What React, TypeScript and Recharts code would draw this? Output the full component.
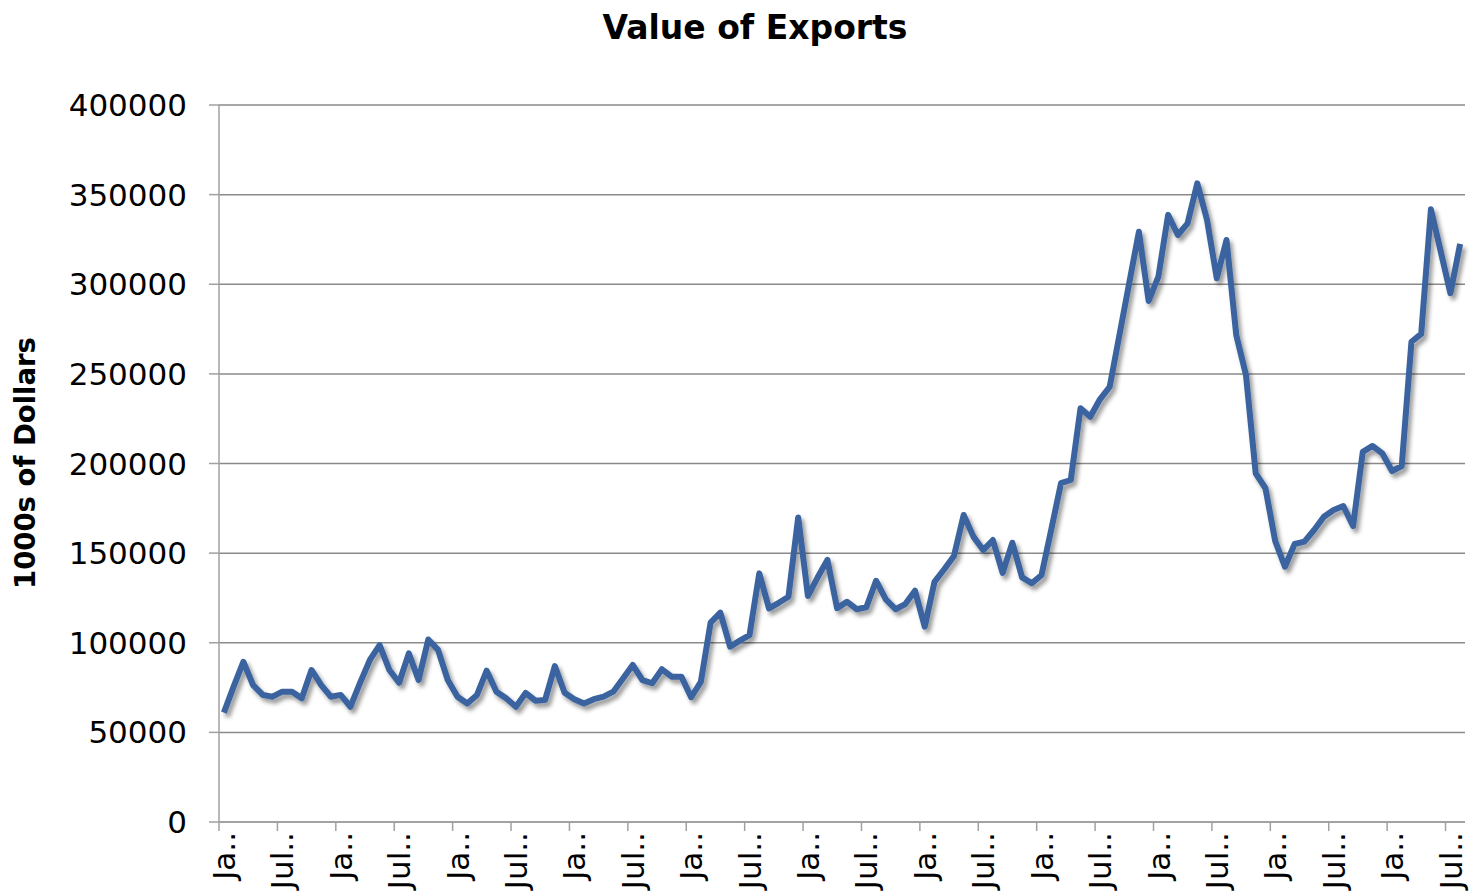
import { LineChart, Line, XAxis, YAxis, CartesianGrid } from "recharts"

const MONTHS = ["Jan", "Feb", "Mar", "Apr", "May", "Jun", "Jul", "Aug", "Sep", "Oct", "Nov", "Dec"]

// Excel truncates the rotated labels to fit the band
const TICK_LABELS: Record<string, string> = { Jan: "Ja..", Jul: "Jul.." }

const Y_TICKS = [0, 50000, 100000, 150000, 200000, 250000, 300000, 350000, 400000]

// monthly export value, 1000s of dollars
const EXPORTS = [
  61000, 75500, 89400, 76400, 70900, 69900, 72700, 72700, 69000, 84800, 76400, 69900,
  70900, 64300, 77700, 90400, 98700, 84800, 77700, 94100, 79200, 101800, 96000, 79200,
  69900, 66100, 70900, 84400, 72700, 69000, 64300, 72000, 67700, 68100, 87000, 72100,
  68500, 66100, 68500, 69900, 72700, 80100, 87600, 79200, 77400, 85200, 81100, 81100,
  69600, 78200, 111200, 116800, 97800, 101200, 104300, 138700, 119200, 122300, 125700, 169900,
  126100, 136500, 146200, 119200, 122900, 118700, 119800, 134600, 124200, 118700, 121600, 129000,
  109000, 134000, 141000, 148400, 171300, 159200, 151700, 157300, 139000, 155800, 136500, 133200,
  137800, 163300, 189000, 190800, 230800, 226100, 235800, 242800, 271700, 300500, 329300, 290700,
  304200, 338700, 327500, 334000, 356300, 335900, 303300, 324700, 271700, 249400, 194500, 186200,
  156800, 142400, 155100, 156400, 162900, 170300, 174100, 176300, 165100, 206500, 209800, 205700,
  195800, 198600, 267900, 272300, 341800, 318400, 295000, 322500,
]

const data = EXPORTS.map((value, i) => ({ month: MONTHS[i % 12], value }))

const CHART_W = 1470
const CHART_H = 894
const Y_AXIS_W = 219
const MARGIN_RIGHT = 5
const BAND = (CHART_W - Y_AXIS_W - MARGIN_RIGHT) / data.length
const FONT = "'DejaVu Sans', sans-serif"
const AXIS_GREY = "#a0a0a0"

function MonthTick(props: any) {
  const { x, y, payload } = props
  const label = TICK_LABELS[payload.value] ?? payload.value
  const edge = x - BAND / 2
  return (
    <g>
      <line x1={edge} x2={edge} y1={y - 10} y2={y - 1} stroke={AXIS_GREY} strokeWidth={1.5} />
      <text
        x={x}
        y={y}
        dy="0.36em"
        textAnchor="end"
        transform={`rotate(-90 ${x} ${y})`}
        fill="#000"
        fontSize={31}
        fontFamily={FONT}
      >
        {label}
      </text>
    </g>
  )
}

function YTitle() {
  return (
    <text
      x={25}
      y={463}
      dy="0.36em"
      textAnchor="middle"
      transform="rotate(-90 25 463)"
      fontSize={27.5}
      fontWeight="bold"
      fontFamily={FONT}
      fill="#000"
    >
      1000s of Dollars
    </text>
  )
}

export default function App() {
  return (
    <div style={{ position: "absolute", left: 0, top: 0, width: CHART_W, height: CHART_H, background: "#fff" }}>
      <svg width={1} height={1} style={{ position: "absolute", left: 0, top: 0 }}>
        <defs>
          <filter id="lineShadow" filterUnits="userSpaceOnUse" x="0" y="0" width={CHART_W} height={CHART_H}>
            <feGaussianBlur in="SourceAlpha" stdDeviation="2.2" />
            <feOffset dx="3" dy="4" result="blur" />
            <feFlood floodColor="#000" floodOpacity="0.4" />
            <feComposite in2="blur" operator="in" />
            <feMerge>
              <feMergeNode />
              <feMergeNode in="SourceGraphic" />
            </feMerge>
          </filter>
        </defs>
      </svg>
      <style>{`.recharts-line-curve { filter: url(#lineShadow); }`}</style>
      <div
        style={{
          position: "absolute",
          top: 11,
          left: 455,
          width: 600,
          textAlign: "center",
          fontFamily: FONT,
          fontWeight: "bold",
          fontSize: 33,
          lineHeight: "33px",
          color: "#000",
        }}
      >
        Value of Exports
      </div>
      <LineChart
        width={CHART_W}
        height={CHART_H}
        data={data}
        margin={{ top: 105, right: MARGIN_RIGHT, left: 0, bottom: 0 }}
      >
        <CartesianGrid vertical={false} stroke="#8a8a8a" strokeWidth={1.5} />
        <XAxis
          dataKey="month"
          padding={{ left: BAND / 2, right: BAND / 2 }}
          height={72}
          interval={5}
          tickLine={false}
          tickSize={10}
          tickMargin={0}
          axisLine={{ stroke: AXIS_GREY, strokeWidth: 1.5 }}
          tick={<MonthTick />}
        />
        <YAxis
          width={Y_AXIS_W}
          domain={[0, 400000]}
          ticks={Y_TICKS}
          tickSize={10}
          tickMargin={22}
          axisLine={{ stroke: AXIS_GREY, strokeWidth: 1.5 }}
          tickLine={{ stroke: AXIS_GREY, strokeWidth: 1.5 }}
          tick={{ fill: "#000", fontSize: 31, fontFamily: FONT }}
          label={<YTitle />}
        />
        <Line
          type="linear"
          dataKey="value"
          stroke="#3A64A0"
          strokeWidth={6}
          strokeLinejoin="round"
          dot={false}
          activeDot={false}
          isAnimationActive={false}
        />
      </LineChart>
    </div>
  )
}
